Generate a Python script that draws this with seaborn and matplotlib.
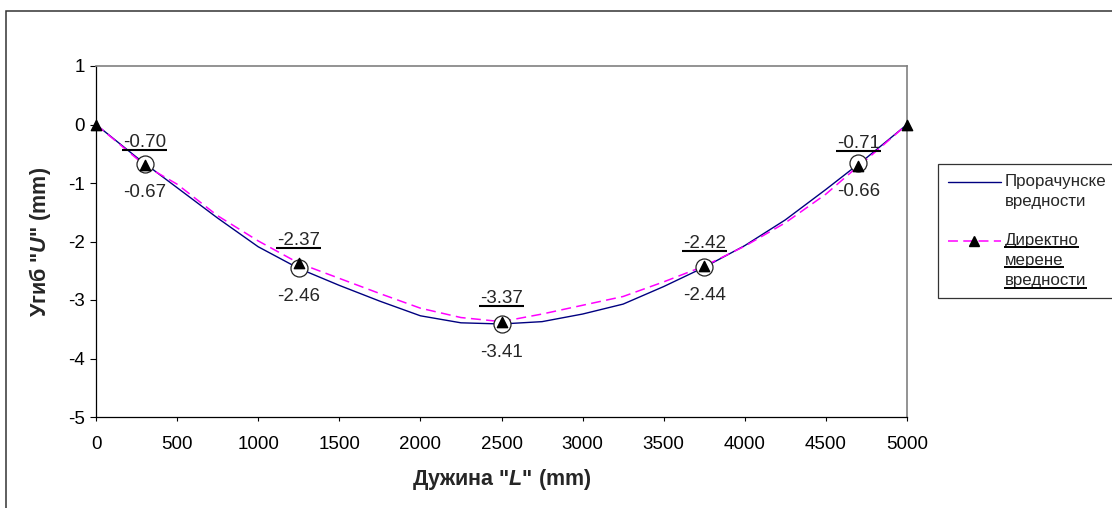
import numpy as np
import pandas as pd
import matplotlib
matplotlib.use("Agg")
import matplotlib.pyplot as plt
import seaborn as sns
from matplotlib.lines import Line2D
from matplotlib.patches import Rectangle
from matplotlib.transforms import IdentityTransform
from matplotlib.legend_handler import HandlerLine2D
from matplotlib.mathtext import MathTextParser

# ---------------- data ----------------
# computed deflection along the span (blue line)
calc_x = [0, 250, 500, 750, 1000, 1250, 1500, 1750, 2000, 2250, 2500,
          2750, 3000, 3250, 3500, 3750, 4000, 4250, 4500, 4750, 5000]
calc_u = [0, -0.56, -1.08, -1.60, -2.09, -2.46, -2.75, -3.02, -3.27, -3.39, -3.41,
          -3.37, -3.24, -3.07, -2.77, -2.44, -2.07, -1.63, -1.11, -0.57, 0]

meas_curve_x = [0, 250, 300, 500, 750, 1000, 1250, 1500, 1750, 2000, 2250, 2500,
                2750, 3000, 3250, 3500, 3750, 4000, 4250, 4500, 4700, 4750, 5000]
meas_curve_u = [0, -0.58, -0.70, -1.02, -1.56, -1.99, -2.37, -2.63, -2.89, -3.14, -3.30, -3.37,
                -3.24, -3.09, -2.94, -2.69, -2.42, -2.08, -1.68, -1.19, -0.71, -0.60, 0]

# measurement points (triangles)
meas_x = [0, 300, 1250, 2500, 3750, 4700, 5000]
meas_u = [0, -0.70, -2.37, -3.37, -2.42, -0.71, 0]

# computed values at measurement points (open circles)
pt_x = [300, 1250, 2500, 3750, 4700]
pt_calc = [-0.67, -2.46, -3.41, -2.44, -0.66]
pt_meas = [-0.70, -2.37, -3.37, -2.42, -0.71]

x_ticks = [0, 500, 1000, 1500, 2000, 2500, 3000, 3500, 4000, 4500, 5000]
y_ticks = [-5, -4, -3, -2, -1, 0, 1]

legend_labels = ["Прорачунске\nвредности", "Директно\nмерене\nвредности"]
xlabel = 'Дужина "$\\mathit{L}$" (mm)'
ylabel = 'Угиб "$\\mathit{U}$" (mm)'

# ---------------- style ----------------
sns.set_style("white")
plt.rcParams["font.family"] = ["Liberation Sans", "DejaVu Sans"]
plt.rcParams["mathtext.fontset"] = "custom"
plt.rcParams["mathtext.rm"] = "Liberation Sans:bold"
plt.rcParams["mathtext.bf"] = "Liberation Sans:bold"
plt.rcParams["mathtext.it"] = "Liberation Sans:italic:bold"

try:
    _p = MathTextParser("agg")
    _p.parse(xlabel, 100)
    _p.parse(ylabel, 100)
except Exception:
    xlabel = 'Дужина "L" (mm)'
    ylabel = 'Угиб "U" (mm)'

W, H = 1112, 508
fig = plt.figure(figsize=(W / 100, H / 100), dpi=100)
fig.patch.set_facecolor("white")
ax = fig.add_axes([96 / W, 1 - 417 / H, (907 - 96) / W, (417 - 66) / H])

# outer chart frame
fig.add_artist(Rectangle((6 / W, -0.2), 1.2, 1.2 - 11 / H, transform=fig.transFigure,
                         fill=False, edgecolor="#333333", linewidth=1.1, clip_on=False))

BLUE = "#000080"
MAG = "#FF00FF"

df_calc = pd.DataFrame({"x": calc_x, "u": calc_u})
df_mc = pd.DataFrame({"x": meas_curve_x, "u": meas_curve_u})

sns.lineplot(data=df_calc, x="x", y="u", ax=ax, color=BLUE, linewidth=1.0,
             sort=False, estimator=None, zorder=3)
sns.lineplot(data=df_mc, x="x", y="u", ax=ax, color=MAG, linewidth=1.1,
             sort=False, estimator=None, zorder=4, linestyle=(0, (6.5, 3.5)))
ax.scatter(pt_x, pt_calc, s=150, facecolors="white", edgecolors="#222222",
           linewidths=0.9, zorder=5)
ax.scatter(meas_x, meas_u, s=55, marker="^", color="black", zorder=6, clip_on=False)

# labels
texts_under = []
for x, um, uc in zip(pt_x, pt_meas, pt_calc):
    t = ax.annotate(f"{um:.2f}", (x, um), xytext=(0, 16.5), textcoords="offset points",
                    ha="center", va="center", fontsize=13.5, zorder=7)
    texts_under.append(t)
    ax.annotate(f"{uc:.2f}", (x, uc), xytext=(0, -20.5), textcoords="offset points",
                ha="center", va="center", fontsize=13.5, zorder=7)

ax.set_xlim(0, 5000)
ax.set_ylim(-5, 1)
ax.set_xticks(x_ticks)
ax.set_yticks(y_ticks)
ax.set_xticklabels([str(v) for v in x_ticks])
ax.set_yticklabels([str(v) for v in y_ticks])
ax.tick_params(axis="y", direction="out", length=4, width=0.8, pad=4, labelsize=13.5,
               colors="black", left=True)
ax.tick_params(axis="x", direction="out", length=3, width=0.8, pad=11, labelsize=13.5,
               colors="black", bottom=True)
for s in ["left", "bottom"]:
    ax.spines[s].set_color("black")
    ax.spines[s].set_linewidth(0.9)
for s in ["top", "right"]:
    ax.spines[s].set_color("#808080")
    ax.spines[s].set_linewidth(1.2)
ax.grid(False)

ax.set_xlabel(xlabel, fontsize=15.5, fontweight="bold", labelpad=10)
ax.set_ylabel(ylabel, fontsize=15.5, fontweight="bold", labelpad=11)


class ShiftHandler(HandlerLine2D):
    def __init__(self, dy, **kw):
        super().__init__(**kw)
        self.dy = dy

    def create_artists(self, legend, orig_handle, xdescent, ydescent, width, height,
                       fontsize, trans):
        arts = super().create_artists(legend, orig_handle, xdescent, ydescent, width,
                                      height, fontsize, trans)
        for a in arts:
            a.set_ydata(np.asarray(a.get_ydata()) + self.dy)
        return arts


h1 = Line2D([], [], color=BLUE, linewidth=1.0)
h2 = Line2D([], [], color=MAG, linewidth=1.1, linestyle=(0, (6.5, 3.5)),
            marker="^", markersize=7, markerfacecolor="black", markeredgecolor="black")
leg = ax.legend([h1, h2], legend_labels, loc="upper left",
                bbox_to_anchor=(938 / W, 1 - 164 / H), bbox_transform=fig.transFigure,
                frameon=True, fancybox=False, fontsize=12.2, handlelength=3.1,
                handletextpad=0.25, borderpad=0.6, borderaxespad=0, labelspacing=1.4,
                handler_map={h1: ShiftHandler(7.2, numpoints=1),
                             h2: ShiftHandler(14.4, numpoints=1)})
for t in leg.get_texts():
    t.set_linespacing(1.42)
leg.get_frame().set_edgecolor("black")
leg.get_frame().set_linewidth(0.9)
leg.set_clip_on(False)

fig.canvas.draw()
renderer = fig.canvas.get_renderer()


def underline(t, extra=1.0, off=2.5, lw=1.3):
    try:
        bbox, info, descent = t._get_layout(renderer)
        pos = t.get_transform().transform(t.get_unitless_position())
        for item in info:
            line, wh, x, y = item
            w = wh[0]
            base_y = pos[1] + y
            x0 = pos[0] + x
            fig.add_artist(Line2D([x0 - extra, x0 + w + extra], [base_y - off, base_y - off],
                                  transform=IdentityTransform(), color="black",
                                  linewidth=lw, solid_capstyle="butt"))
    except Exception:
        bb = t.get_window_extent(renderer)
        fig.add_artist(Line2D([bb.x0, bb.x1], [bb.y0 + 1.5, bb.y0 + 1.5],
                              transform=IdentityTransform(), color="black", linewidth=lw))


for t in texts_under:
    underline(t, extra=1.0, off=3.0, lw=1.5)
underline(leg.get_texts()[1], extra=0.5, off=2.5, lw=1.4)

fig.savefig("out.png", dpi=100)
